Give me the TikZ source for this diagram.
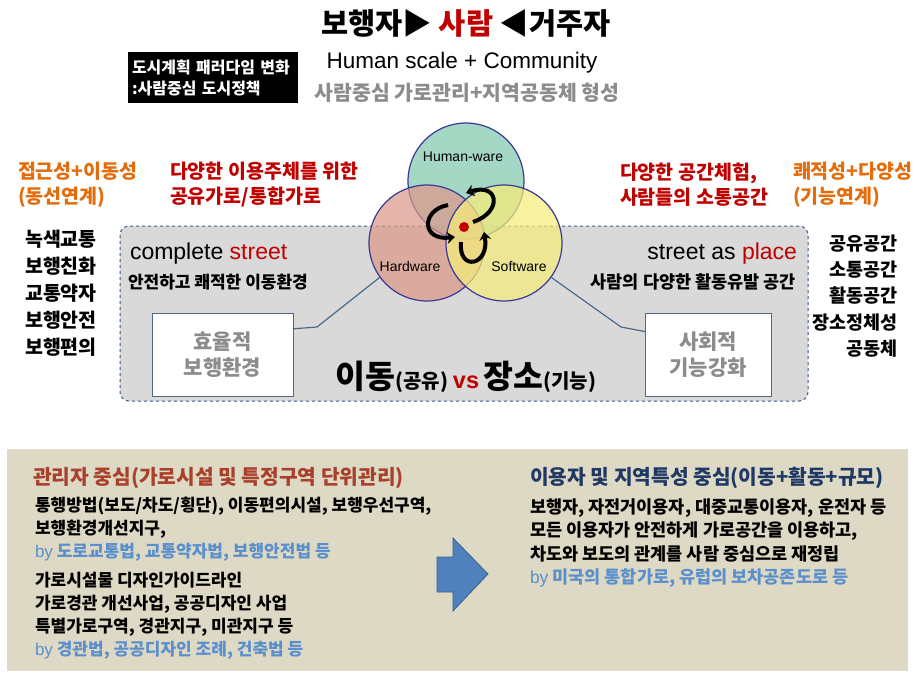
\documentclass[tikz,border=0pt]{standalone}
\usepackage{fontspec}
\setmainfont{Noto Sans CJK KR}
\newfontfamily\en{Liberation Sans}
\newcommand\fsz[2]{\fontsize{#1}{#2}\selectfont}
\definecolor{myred}{HTML}{C00000}
\definecolor{myorange}{HTML}{E46C0A}
\definecolor{subgray}{HTML}{8C8C8C}
\definecolor{boxgray}{HTML}{D9D9D9}
\definecolor{boxblue}{HTML}{3B5A8A}
\definecolor{connblue}{HTML}{4A6A8A}
\definecolor{beige}{HTML}{DDD9C4}
\definecolor{headred}{HTML}{A9402C}
\definecolor{headnavy}{HTML}{1F3864}
\definecolor{lawblue}{HTML}{5A8FCC}
\definecolor{arrowblue}{HTML}{4F81BD}
\definecolor{circline}{HTML}{3A3A96}
\definecolor{humanc}{HTML}{82C9AE}
\definecolor{hardc}{HTML}{DC988A}
\definecolor{softc}{HTML}{F6EC7A}
\usetikzlibrary{arrows.meta}
\begin{document}
\begin{tikzpicture}[x=1pt,y=-1pt,
  every node/.style={inner sep=0pt, outer sep=0pt},
  venn/.style={circle, minimum size=116pt, draw=circline, line width=1.2pt, fill opacity=0.72, draw opacity=1, text opacity=1},
  wbox/.style={draw=connblue, line width=1pt, fill=white, align=center, text=subgray, font=\bfseries\fsz{21}{26}},
  conn/.style={draw=connblue, line width=1.2pt},
  cyc/.style={line width=4pt, -{Stealth[length=8pt,width=12pt]}},
  lab/.style={font=\bfseries\fsz{19.5}{25}, align=left},
  body/.style={font=\bfseries\fsz{17}{23}, align=left}
]
\useasboundingbox (0,0) rectangle (915,675);
\fill[white] (0,0) rectangle (915,675);

% ---- top titles
\node[font=\bfseries\fsz{29.5}{34}] (title) at (466,23) {보행자▶ \textcolor{myred}{사람} ◀거주자};
\node[fill=black, text=white, font=\bfseries\fsz{16}{21}, align=left, minimum width=170pt, minimum height=51pt, text width=162pt] (para) at (213,77.5) {도시계획 패러다임 변화\\:사람중심 도시정책};
\node[font=\en\fsz{22.5}{26}] (hs) at (462,63) {Human scale + Community};
\node[font=\bfseries\fsz{20.5}{24}, text=subgray] (sub) at (467,93) {사람중심 가로관리+지역공동체 형성};

% ---- side labels
\node[lab, text=myorange, anchor=west] (accl) at (18,185) {접근성+이동성\\(동선연계)};
\node[lab, text=myred, anchor=west] (sharel) at (170,185) {다양한 이용주체를 위한\\공유가로/통합가로};
\node[lab, text=myred, anchor=west] (spacer) at (620,185) {다양한 공간체험,\\사람들의 소통공간};
\node[lab, text=myorange, anchor=west] (comfr) at (793,185) {쾌적성+다양성\\(기능연계)};

\node[font=\bfseries\fsz{19.5}{27}, align=left] (leftlist) at (61,293) {녹색교통\\보행친화\\교통약자\\보행안전\\보행편의};
\node[font=\bfseries\fsz{18.5}{26.3}, align=right, anchor=east] (rightlist) at (898,296) {공유공간\\소통공간\\활동공간\\장소정체성\\공동체};

% ---- gray box
\draw[dashed, boxblue, fill=boxgray, rounded corners=9pt, line width=1pt] (120,226) rectangle (808,401);

\node[font=\en\fsz{23}{26}, anchor=base west] (cs) at (130,259) {complete \textcolor{myred}{street}};
\node[font=\bfseries\fsz{17}{19}, anchor=west] (csd) at (128,282) {안전하고 쾌적한 이동환경};
\node[font=\en\fsz{23}{26}, anchor=base east] (sap) at (797,259) {street as \textcolor{myred}{place}};
\node[font=\bfseries\fsz{17.5}{19}, anchor=east] (sapd) at (796,282) {사람의 다양한 활동유발 공간};

\node[wbox, minimum width=141pt, minimum height=83pt] (eff) at (222.5,354.5) {효율적\\보행환경};
\node[wbox, minimum width=126pt, minimum height=83pt] (soc) at (708,354.5) {사회적\\기능강화};

\node[font=\bfseries] (mvp) at (466,377) {\fsz{32.5}{36}이동\fsz{20}{24}(공유) \textcolor{myred}{\en\fsz{23.5}{26}vs} \fsz{32.5}{36}장소\fsz{20}{24}(기능)};

% ---- Venn
\node[venn, fill=humanc] (hu) at (466,181) {};
\node[venn, fill=hardc] (hw) at (427,243) {};
\node[venn, fill=softc] (sw) at (504,243) {};
\node[font=\en\fsz{14}{16}] (hul) at (463,157) {Human-ware};
\node[font=\en\fsz{14}{16}] (hwl) at (410,266) {Hardware};
\node[font=\en\fsz{14}{16}] (swl) at (519,266) {Software};
\node[circle, fill=myred, minimum size=10pt] (dot) at (464,227) {};

\draw[cyc] (473,222) .. controls (503,212) and (499,182) .. (466,193);
\draw[cyc] (448,205) .. controls (421,210) and (421,241) .. (455,237);
\draw[cyc] (461,242) .. controls (458,272) and (490,266) .. (484,232);

\draw[conn] (hw.216) -- (317,327) -- (eff.20);
\draw[conn] (sw.324) -- (621,327) -- (soc.160);

% ---- bottom panel
\fill[beige] (7,449) rectangle (908,671);
\node[font=\bfseries\fsz{20.3}{24}, text=headred, anchor=west] (mgr) at (33,478) {관리자 중심(가로시설 및 특정구역 단위관리)};
\node[body, anchor=west] (mgr1) at (35,529) {통행방법(보도/차도/횡단), 이동편의시설, 보행우선구역,\\보행환경개선지구,\\\textcolor{lawblue}{{\mdseries\en by} 도로교통법, 교통약자법, 보행안전법 등}};
\node[body, anchor=west] (mgr2) at (35,616) {가로시설물 디자인가이드라인\\가로경관 개선사업, 공공디자인 사업\\특별가로구역, 경관지구, 미관지구 등\\\textcolor{lawblue}{{\mdseries\en by} 경관법, 공공디자인 조례, 건축법 등}};

\draw[draw=arrowblue!75!black, fill=arrowblue, line width=0.8pt] (437,557) -- (453,557) -- (453,538) -- (488,574) -- (453,611) -- (453,592) -- (437,592) -- cycle;

\node[font=\bfseries\fsz{20.3}{24}, text=headnavy, anchor=west] (usr) at (530,478) {이용자 및 지역특성 중심(이동+활동+규모)};
\node[body, font=\bfseries\fsz{17.5}{23.3}, anchor=west] (usr1) at (530,543) {보행자, 자전거이용자, 대중교통이용자, 운전자 등\\모든 이용자가 안전하게 가로공간을 이용하고,\\차도와 보도의 관계를 사람 중심으로 재정립\\\textcolor{lawblue}{{\mdseries\en by} 미국의 통합가로, 유럽의 보차공존도로 등}};
\end{tikzpicture}
\end{document}
